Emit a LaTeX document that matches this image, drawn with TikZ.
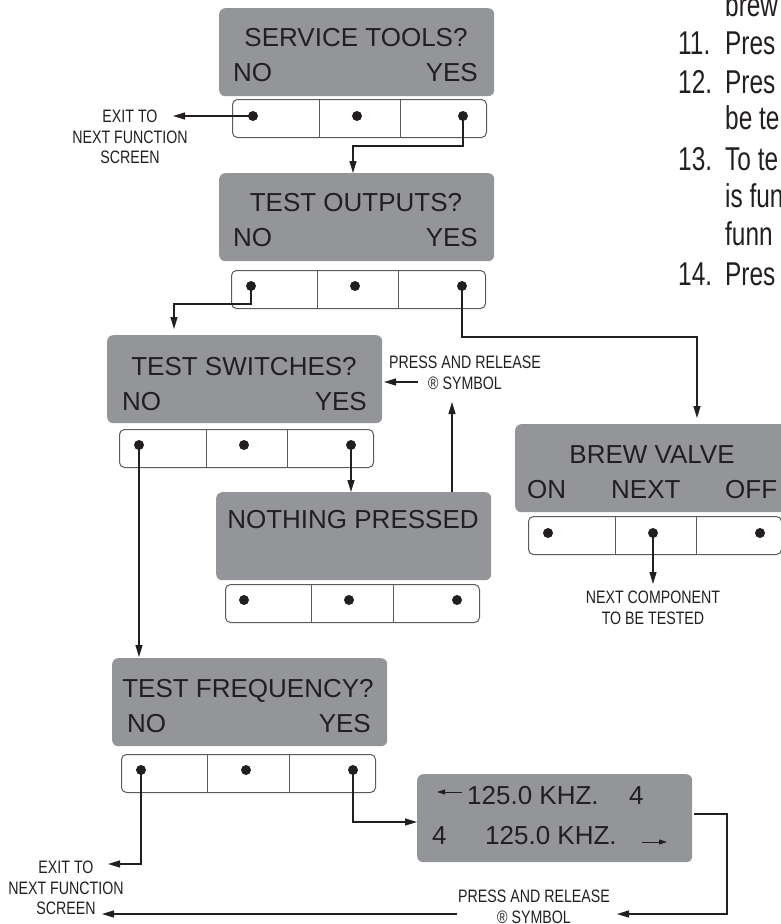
\documentclass[tikz,border=0pt]{standalone}
\usepackage{fontspec}
\setmainfont{Liberation Sans}
\newfontfamily\condfont{Liberation Sans}[FakeStretch=0.79]
\newfontfamily\bodyfont{Liberation Sans}[FakeStretch=0.74]
\usetikzlibrary{arrows.meta}
\definecolor{lcd}{HTML}{939598}
\definecolor{ink}{HTML}{231F20}
\definecolor{rim}{HTML}{5A5B5D}
\begin{document}
\begin{tikzpicture}[x=1pt,y=-1pt,
  screen/.style={fill=lcd, rounded corners=6pt, draw=none, inner sep=0pt, anchor=north west, minimum width=275pt, minimum height=88pt},
  strip/.style={fill=white, draw=rim, line width=1pt, rounded corners=5pt, inner sep=0pt, anchor=north west, minimum width=254pt, minimum height=38pt},
  divider/.style={draw=rim, line width=1pt},
  dot/.style={circle, fill=ink, inner sep=0pt, minimum size=10pt},
  lcdtxt/.style={inner sep=0pt, text=ink, font=\fontsize{26}{30}\selectfont},
  lbl/.style={inner sep=0pt, text=ink, align=center, font=\condfont\fontsize{18}{20.5}\selectfont},
  body/.style={inner sep=0pt, text=ink, anchor=base west, font=\bodyfont\fontsize{33}{38}\selectfont},
  arr/.style={draw=ink, line width=1.2pt, -{Triangle[length=12pt,width=7pt]}},
  smallarr/.style={draw=ink, line width=1pt, -{Triangle[length=8pt,width=5pt]}}
]
\clip (0,0) rectangle (781,924);

% ---------- right-hand running text (cut off) ----------
\node[body] (t0) at (725,16) {brew};
\node[body] (n11) at (678,54) {11.};
\node[body] (t11) at (725,54) {Pres};
\node[body] (n12) at (678,93) {12.};
\node[body] (t12) at (725,93) {Pres};
\node[body] (t12b) at (725,129) {be te};
\node[body] (n13) at (678,170) {13.};
\node[body] (t13) at (725,170) {To te};
\node[body] (t13b) at (725,207) {is fun};
\node[body] (t13c) at (725,245) {funn};
\node[body] (n14) at (678,285) {14.};
\node[body] (t14) at (725,285) {Pres};

% ---------- SERVICE TOOLS ----------
\node[screen] (so) at (219,8) {};
\node[lcdtxt, anchor=base] (soT) at (356,46) {SERVICE TOOLS?};
\node[lcdtxt, anchor=base west] (soN) at (233,81) {NO};
\node[lcdtxt, anchor=base east] (soY) at (478,81) {YES};
\node[strip] (sos) at (232,99) {};
\draw[divider] (319,99) -- (319,137);
\draw[divider] (400,99) -- (400,137);
\node[dot] (so1) at (253,116) {};
\node[dot] (so2) at (357,116) {};
\node[dot] (so3) at (463,116) {};

% ---------- TEST OUTPUTS ----------
\node[screen] (to) at (219,173) {};
\node[lcdtxt, anchor=base] (toT) at (356,211) {TEST OUTPUTS?};
\node[lcdtxt, anchor=base west] (toN) at (233,246) {NO};
\node[lcdtxt, anchor=base east] (toY) at (478,246) {YES};
\node[strip] (tos) at (231,270) {};
\draw[divider] (317,270) -- (317,308);
\draw[divider] (398,270) -- (398,308);
\node[dot] (to1) at (251,286) {};
\node[dot] (to2) at (355,286) {};
\node[dot] (to3) at (462,286) {};

% ---------- TEST SWITCHES ----------
\node[screen] (ts) at (107,335) {};
\node[lcdtxt, anchor=base] (tsT) at (244,375) {TEST SWITCHES?};
\node[lcdtxt, anchor=base west] (tsN) at (122,410) {NO};
\node[lcdtxt, anchor=base east] (tsY) at (367,410) {YES};
\node[strip] (tss) at (119,429) {};
\draw[divider] (206,429) -- (206,467);
\draw[divider] (287,429) -- (287,467);
\node[dot] (ts1) at (139,445) {};
\node[dot] (ts2) at (244,445) {};
\node[dot] (ts3) at (351,445) {};

% ---------- NOTHING PRESSED ----------
\node[screen] (np) at (216,492) {};
\node[lcdtxt, anchor=base] (npT) at (353,528) {NOTHING PRESSED};
\node[strip] (nps) at (225,584) {};
\draw[divider] (311,584) -- (311,622);
\draw[divider] (393,584) -- (393,622);
\node[dot] (np1) at (244,600) {};
\node[dot] (np2) at (349,600) {};
\node[dot] (np3) at (457,600) {};

% ---------- BREW VALVE ----------
\node[screen] (bv) at (515,424) {};
\node[lcdtxt, anchor=base] (bvT) at (652,463) {BREW VALVE};
\node[lcdtxt, anchor=base west] (bvOn) at (527,498) {ON};
\node[lcdtxt, anchor=base west] (bvNx) at (611,498) {NEXT};
\node[lcdtxt, anchor=base west] (bvOf) at (725,498) {OFF};
\node[strip, minimum width=253pt] (bvs) at (528,516) {};
\draw[divider] (615,516) -- (615,554);
\draw[divider] (696,516) -- (696,554);
\node[dot] (bv1) at (548,533) {};
\node[dot] (bv2) at (653,533) {};
\node[dot] (bv3) at (760,533) {};

% ---------- TEST FREQUENCY ----------
\node[screen] (tf) at (112,658) {};
\node[lcdtxt, anchor=base] (tfT) at (248,697) {TEST FREQUENCY?};
\node[lcdtxt, anchor=base west] (tfN) at (127,732) {NO};
\node[lcdtxt, anchor=base east] (tfY) at (371,732) {YES};
\node[strip] (tfs) at (121,754) {};
\draw[divider] (207,754) -- (207,793);
\draw[divider] (289,754) -- (289,793);
\node[dot] (tf1) at (141,770) {};
\node[dot] (tf2) at (246,770) {};
\node[dot] (tf3) at (353,770) {};

% ---------- FREQUENCY DISPLAY ----------
\node[screen] (fq) at (417,774) {};
\node[lcdtxt, anchor=base west] (fqA) at (467,804) {125.0 KHZ.};
\node[lcdtxt, anchor=base west] (fqB) at (629,804) {4};
\node[lcdtxt, anchor=base west] (fqC) at (432,844) {4};
\node[lcdtxt, anchor=base west] (fqD) at (485,844) {125.0 KHZ.};
\coordinate (fqL0) at (462,792);
\coordinate (fqL1) at (437,792);
\coordinate (fqR0) at (642,842);
\coordinate (fqR1) at (667,842);
\draw[smallarr] (fqL0) -- (fqL1);
\draw[smallarr] (fqR0) -- (fqR1);

% ---------- labels ----------
\node[lbl] (exit1) at (130,137) {EXIT TO\\NEXT FUNCTION\\SCREEN};
\node[lbl] (press1) at (465,373) {PRESS AND RELEASE\\\textregistered{} SYMBOL};
\node[lbl] (nextc) at (653,608) {NEXT COMPONENT\\TO BE TESTED};
\node[lbl] (exit2) at (66,888) {EXIT TO\\NEXT FUNCTION\\SCREEN};
\node[lbl] (press2) at (534,907) {PRESS AND RELEASE\\\textregistered{} SYMBOL};

% ---------- connector end points ----------
\coordinate (e1) at (173,116);
\coordinate (toIn) at (353,173);
\coordinate (tsIn) at (174,329);
\coordinate (bvIn) at (697,418);
\coordinate (npIn) at (351,492);
\coordinate (npOut) at (452,492);
\coordinate (p1In) at (452,402);
\coordinate (p1Out) at (418,382);
\coordinate (p1Tip) at (384,382);
\coordinate (tfIn) at (139,657);
\coordinate (e2) at (108,864);
\coordinate (fqIn) at (417,822);
\coordinate (fqOut) at (694,814);
\coordinate (p2Tip) at (617,914);
\coordinate (p2Out) at (457,914);
\coordinate (e2b) at (102,914);
\coordinate (nxIn) at (653,584);

% ---------- connectors ----------
\draw[arr] (so1.center) -- (e1);
\draw[arr] (so3.center) |- (toIn |- 0,146) -- (toIn);
\draw[arr] (to1.center) |- (tsIn |- 0,304) -- (tsIn);
\draw[arr] (to3.center) |- (bvIn |- 0,337) -- (bvIn);
\draw[arr] (ts3.center) -- (npIn);
\draw[arr] (npOut) -- (p1In);
\draw[arr] (p1Out) -- (p1Tip);
\draw[arr] (ts1.center) -- (tfIn);
\draw[arr] (bv2.center) -- (nxIn);
\draw[arr] (tf1.center) |- (e2);
\draw[arr] (tf3.center) |- (fqIn);
\draw[arr] (fqOut) -| (727,914) -- (p2Tip);
\draw[arr] (p2Out) -- (e2b);
\end{tikzpicture}
\end{document}
